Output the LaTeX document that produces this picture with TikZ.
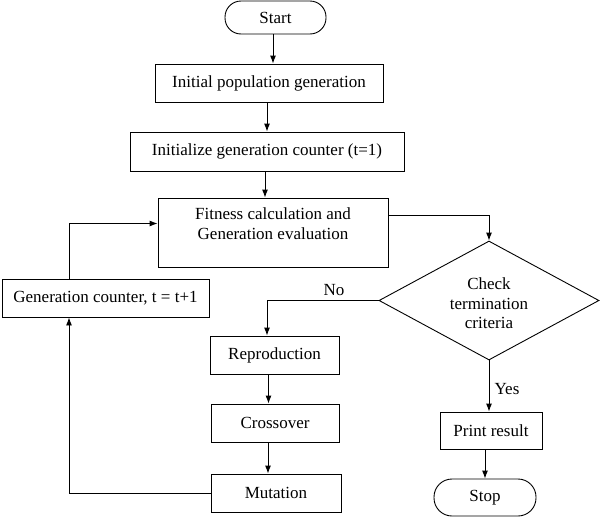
\documentclass[tikz,border=0pt]{standalone}
\usepackage{fontspec}
\setmainfont{Liberation Serif}
\usetikzlibrary{shapes.geometric,arrows.meta,calc}
\tikzset{
  txt/.style={font=\fontsize{17}{19.5}\selectfont},
  box/.style={draw, line width=0.9pt, rectangle, inner sep=0pt, align=center, txt},
  term/.style={box, rounded corners=16pt},
  dec/.style={draw, line width=0.9pt, diamond, aspect=1.86, inner sep=0pt, align=center, txt},
  arr/.style={line width=0.9pt, -{Latex[length=8pt,width=6pt]}},
  lbl/.style={txt, inner sep=0pt}
}
\begin{document}
\begin{tikzpicture}[x=1pt,y=-1pt]
\useasboundingbox (0,0) rectangle (600,517);
\node[term, minimum width=101pt, minimum height=33pt] (start) at (275.5,17.5) {Start};
\node[box, minimum width=228pt, minimum height=38pt] (init) at (269,83) {Initial population generation};
\node[box, minimum width=274pt, minimum height=39pt] (initc) at (267,151.5) {Initialize generation counter (t=1)};
\node[box, minimum width=230pt, minimum height=69pt,
  label={[lbl, align=center, anchor=north, yshift=-10pt]north:Fitness calculation and\\Generation evaluation}] (fit) at (273,232.5) {};
\node[box, minimum width=207pt, minimum height=38pt] (gen) at (105.5,298) {Generation counter, t = t+1};
\node[dec, minimum width=220pt, minimum height=119pt,
  label={[lbl, align=center, yshift=-3pt]center:Check\\termination\\criteria}] (dia) at (489,300.5) {};
\node[box, minimum width=129pt, minimum height=38pt] (rep) at (274.5,355) {Reproduction};
\node[box, minimum width=128pt, minimum height=38pt] (cro) at (275,423) {Crossover};
\node[box, minimum width=130pt, minimum height=38pt] (mut) at (276,493) {Mutation};
\node[box, minimum width=102pt, minimum height=37pt] (pr) at (491,430.5) {Print result};
\node[term, minimum width=102pt, minimum height=37pt, rounded corners=18pt] (stop) at (485,497.5) {Stop};
\coordinate (lx) at (69,0);
\coordinate (nx) at (267,0);

\draw[arr] ([xshift=-2.5pt]start.south) -- ([xshift=-2.5pt]start.south |- init.north);
\draw[arr] ([xshift=-2pt]init.south) -- ([xshift=-2pt]init.south |- initc.north);
\draw[arr] ([xshift=-2pt]initc.south) -- ([xshift=-2pt]initc.south |- fit.north);
\draw[arr] ($(fit.east)+(0,-17)$) -| (dia.north);
\draw[arr] (dia.west) -| (nx |- rep.north);
\node[lbl] (no) at (334,290) {No};
\draw[arr] ([xshift=-6pt]rep.south) -- ([xshift=-6pt]rep.south |- cro.north);
\draw[arr] ([xshift=-7pt]cro.south) -- ([xshift=-7pt]cro.south |- mut.north);
\draw[arr] (mut.west) -| (lx |- gen.south);
\draw[arr] (lx |- gen.north) |- ($(fit.west)+(0,-9)$);
\draw[arr] (dia.south) -- (dia.south |- pr.north);
\node[lbl] (yes) at (507,389) {Yes};
\draw[arr] ([xshift=-6pt]pr.south) -- ([xshift=-6pt]pr.south |- stop.north);
\end{tikzpicture}
\end{document}
